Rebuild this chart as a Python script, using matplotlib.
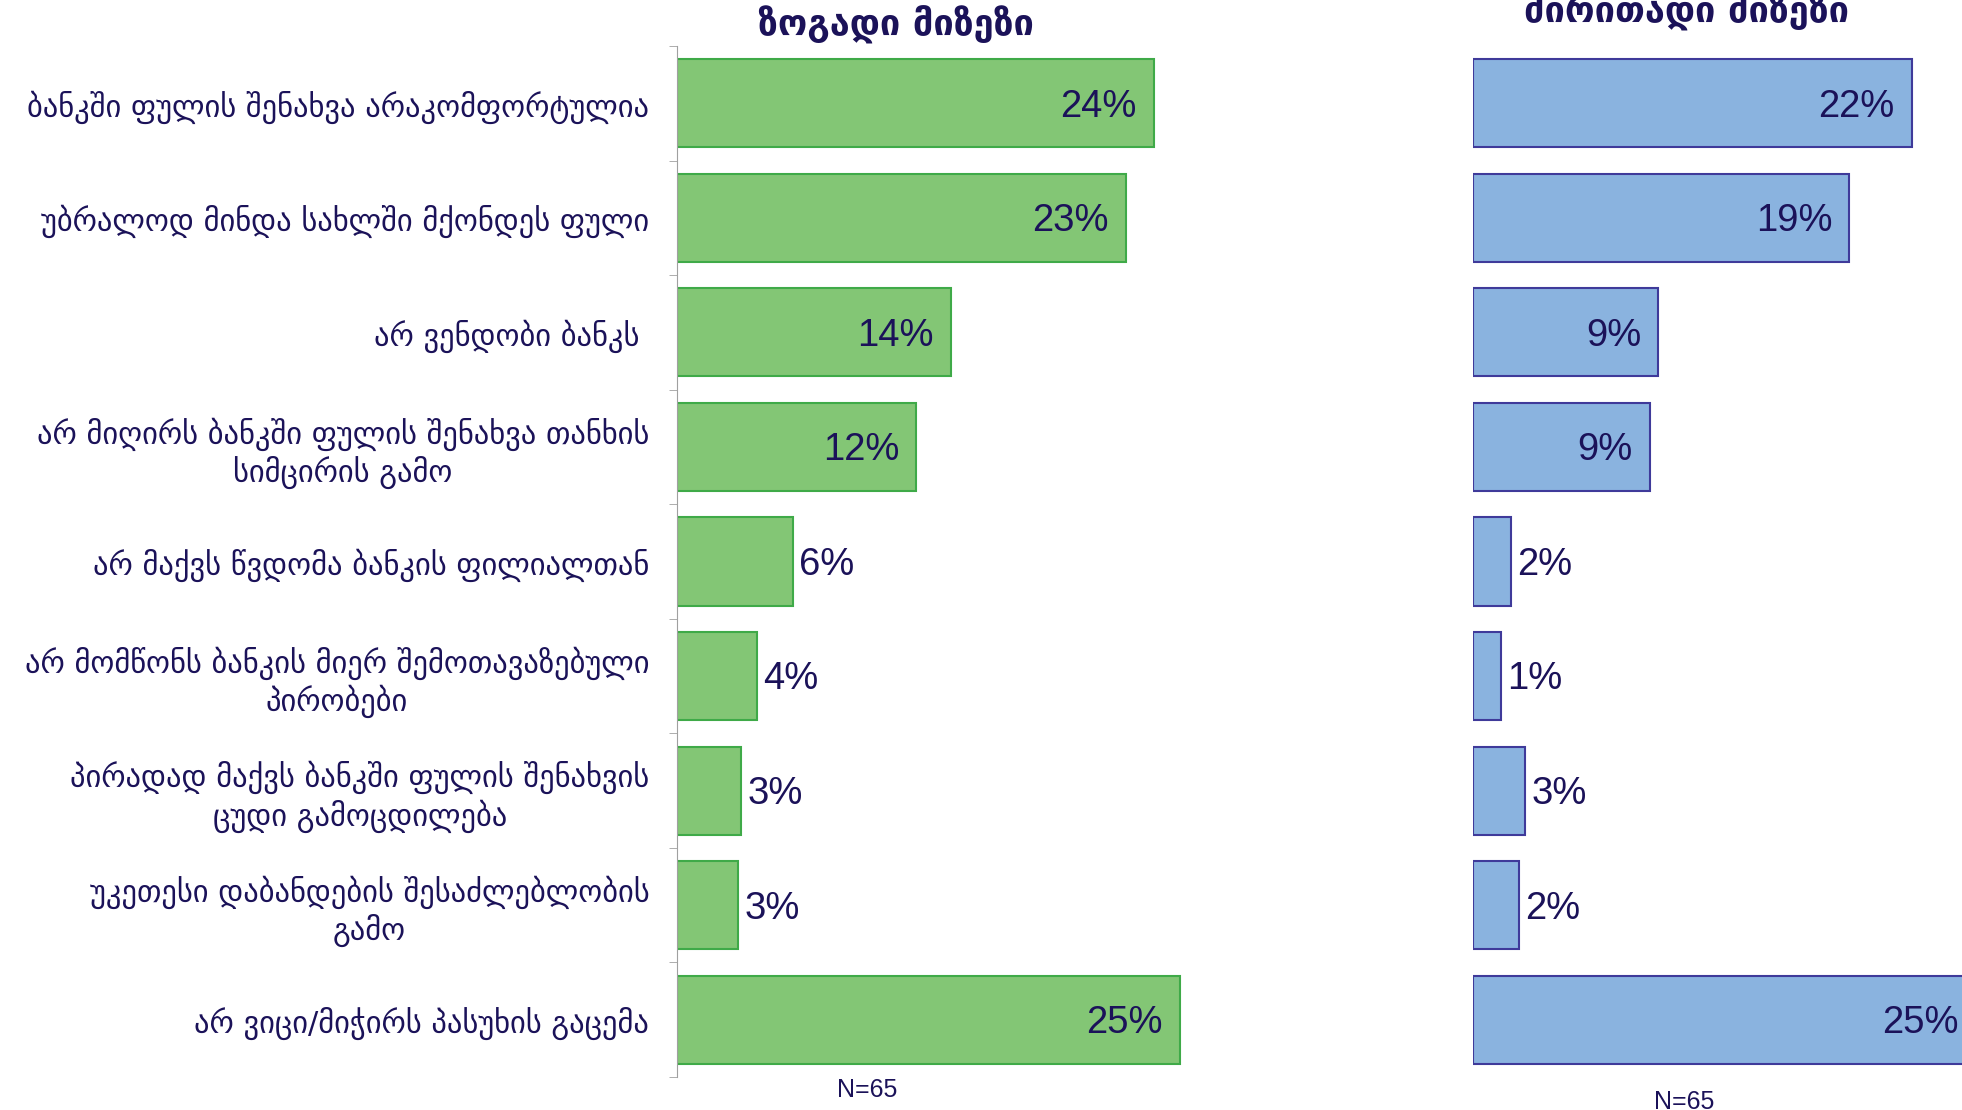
import matplotlib.pyplot as plt

plt.rcParams['font.family'] = ['DejaVu Sans']

categories = [
    "ბანკში ფულის შენახვა არაკომფორტულია",
    "უბრალოდ მინდა სახლში მქონდეს ფული",
    "არ ვენდობი ბანკს ",
    "არ მიღირს ბანკში ფულის შენახვა თანხის\nსიმცირის გამო",
    "არ მაქვს წვდომა ბანკის ფილიალთან",
    "არ მომწონს ბანკის მიერ შემოთავაზებული\nპირობები",
    "პირადად მაქვს ბანკში ფულის შენახვის\nცუდი გამოცდილება",
    "უკეთესი დაბანდების შესაძლებლობის\nგამო",
    "არ ვიცი/მიჭირს პასუხის გაცემა",
]
general = [23.7, 22.3, 13.6, 11.9, 5.75, 4.0, 3.2, 3.05, 25.0]
general_labels = ["24%", "23%", "14%", "12%", "6%", "4%", "3%", "3%", "25%"]
main = [21.8, 18.7, 9.2, 8.8, 1.9, 1.4, 2.6, 2.3, 25.0]
main_labels = ["22%", "19%", "9%", "9%", "2%", "1%", "3%", "2%", "25%"]
n_text = "N=65"
title_left = "ზოგადი მიზეზი"
title_right = "ძირითადი მიზეზი"

text_col = '#1B1259'
W, H = 1962, 1110
fig = plt.figure(figsize=(W / 100, H / 100), dpi=100)

px_per_pct = 20.12
xmax = 30
ax_bottom = 1 - 1077 / H
ax_height = (1077 - 46) / H

ax1 = fig.add_axes([677 / W, ax_bottom, xmax * px_per_pct / W, ax_height])
ax2 = fig.add_axes([1473 / W, ax_bottom, (W - 1473) / W, ax_height])

y = list(range(len(categories)))


def draw(ax, vals, labels, fill, edge):
    ax.barh(y, vals, height=0.77, color=fill, edgecolor=edge, linewidth=1.5)
    for yi, v, lab in zip(y, vals, labels):
        if v >= 8:
            ax.text(v - 0.85, yi + 0.03, lab, ha='right', va='center', fontsize=27.5,
                    color=text_col, family='Liberation Sans', clip_on=False)
        else:
            ax.text(v + 0.3, yi + 0.03, lab, ha='left', va='center', fontsize=27.5,
                    color=text_col, family='Liberation Sans', clip_on=False)
    ax.set_ylim(len(categories) - 0.5, -0.5)
    for s in ['top', 'right', 'bottom']:
        ax.spines[s].set_visible(False)
    ax.set_xticks([])


draw(ax1, general, general_labels, '#83C675', '#3FAA48')
ax1.set_xlim(0, xmax)
ax1.spines['left'].set_color('#A0A0A0')
ax1.set_yticks(y)
ax1.set_yticklabels(categories, fontsize=22, color=text_col, multialignment='center')
ax1.tick_params(axis='y', which='major', length=0, pad=20)
ax1.set_yticks([i - 0.5 for i in range(len(categories) + 1)], minor=True)
ax1.tick_params(axis='y', which='minor', length=6, color='#A0A0A0', direction='out')

draw(ax2, main, main_labels, '#8AB3DF', '#3F3A9A')
ax2.set_xlim(0, (W - 1473) / px_per_pct)
ax2.spines['left'].set_visible(False)
ax2.set_yticks([])

fig.text(896 / W, 1 - 25 / H, title_left, ha='center', va='center',
         fontsize=26, fontweight='bold', color=text_col)
fig.text(1687 / W, 1 - 12 / H, title_right, ha='center', va='center',
         fontsize=26, fontweight='bold', color=text_col)
fig.text(867 / W, 1 - 1090 / H, n_text, ha='center', va='center',
         fontsize=18, color=text_col, family='Liberation Sans')
fig.text(1684 / W, 1 - 1102 / H, n_text, ha='center', va='center',
         fontsize=18, color=text_col, family='Liberation Sans')

fig.savefig('out.png', dpi=100)
